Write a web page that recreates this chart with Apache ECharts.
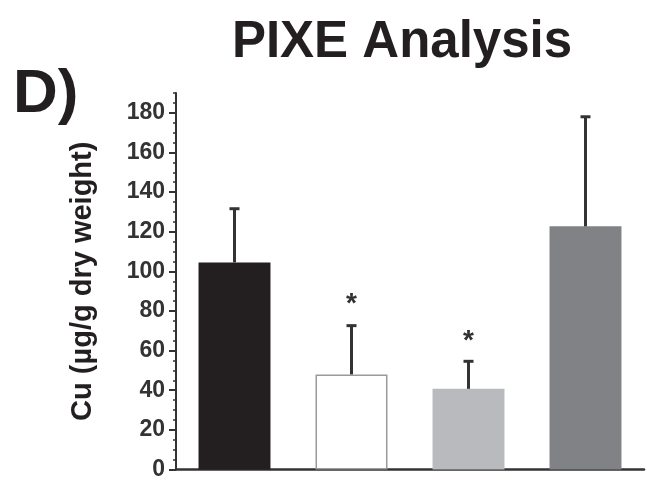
<!DOCTYPE html>
<html><head><meta charset="utf-8">
<script src="https://cdn.jsdelivr.net/npm/echarts@6/dist/echarts.min.js"></script>
<style>html,body{margin:0;padding:0;background:#fff}#c{width:653px;height:481px}</style>
</head><body><div id="c"></div>
<script>
var categories = ['A', 'B', 'C', 'D'];
var means = [104.5, 48, 40.7, 122.7];
var errUpper = [131.6, 72.6, 54.6, 178];
var barColors = ['#231f20', '#ffffff', '#b9babd', '#808285'];
var starY = [null, 83.5, 64.5, null];
var majorTicks = [0, 20, 40, 60, 80, 100, 120, 140, 160, 180];
var minorTicks = [];
for (var v = 0; v <= 190; v += 5) minorTicks.push(v);

var chart = echarts.init(document.getElementById('c'));
var font = 'Liberation Sans, Arial, sans-serif';
chart.setOption({
  animation: false,
  backgroundColor: '#fff',
  title: {
    text: 'PIXE Analysis', left: 397, top: 12, textAlign: 'center',
    textStyle: { fontFamily: font, fontSize: 51, fontWeight: 'bold', color: '#231f20' }
  },
  graphic: [{
    type: 'text', left: 13, top: 64,
    style: { text: 'D)', fontFamily: font, fontSize: 62, fontWeight: 'bold', fill: '#231f20' }
  }],
  grid: { left: 176, right: 9, top: 93, bottom: 11 },
  xAxis: {
    type: 'category', data: categories,
    axisLine: { lineStyle: { color: '#333', width: 2.5 } },
    axisTick: { show: false }, axisLabel: { show: false }
  },
  yAxis: [{
    type: 'value', min: 0, max: 190,
    name: 'Cu (µg/g dry weight)', nameLocation: 'middle', nameGap: 79,
    nameTextStyle: { fontFamily: font, fontSize: 29, fontWeight: 'bold', color: '#231f20' },
    axisLine: { show: true, lineStyle: { color: '#333', width: 2 } },
    axisTick: { show: true, length: 7, customValues: majorTicks, lineStyle: { color: '#333', width: 2 } },
    axisLabel: { customValues: majorTicks, margin: 11, fontFamily: font, fontSize: 23, fontWeight: 'bold', color: '#333' },
    splitLine: { show: false }
  }, {
    type: 'value', min: 0, max: 190, position: 'left',
    axisLine: { show: false },
    axisTick: { show: true, length: 3, customValues: minorTicks, lineStyle: { color: '#333', width: 1.5 } },
    axisLabel: { show: false }, splitLine: { show: false }
  }],
  series: [{
    type: 'bar', barWidth: '61.5%',
    data: means.map(function (m, i) {
      return { value: m, itemStyle: { color: barColors[i], borderColor: i === 1 ? '#9a9a9a' : barColors[i], borderWidth: i === 1 ? 1.5 : 0 } };
    }),
    z: 2
  }, {
    type: 'custom', z: 3,
    data: means.map(function (m, i) { return [i, m, errUpper[i]]; }),
    renderItem: function (params, api) {
      var base = api.coord([api.value(0), api.value(1)]);
      var top = api.coord([api.value(0), api.value(2)]);
      return {
        type: 'group', children: [
          { type: 'line', shape: { x1: base[0], y1: base[1], x2: top[0], y2: top[1] }, style: { stroke: '#333', lineWidth: 3 } },
          { type: 'line', shape: { x1: top[0] - 5, y1: top[1], x2: top[0] + 5, y2: top[1] }, style: { stroke: '#333', lineWidth: 3 } }
        ]
      };
    }
  }, {
    type: 'custom', z: 4,
    data: starY.map(function (s, i) { return s == null ? null : [i, s]; }).filter(function (d) { return d; }),
    renderItem: function (params, api) {
      var p = api.coord([api.value(0), api.value(1)]);
      return { type: 'text', x: p[0], y: p[1], style: { text: '*', fontFamily: font, fontSize: 28, fontWeight: 'bold', fill: '#333', align: 'center', verticalAlign: 'middle' } };
    }
  }]
});
</script></body></html>
